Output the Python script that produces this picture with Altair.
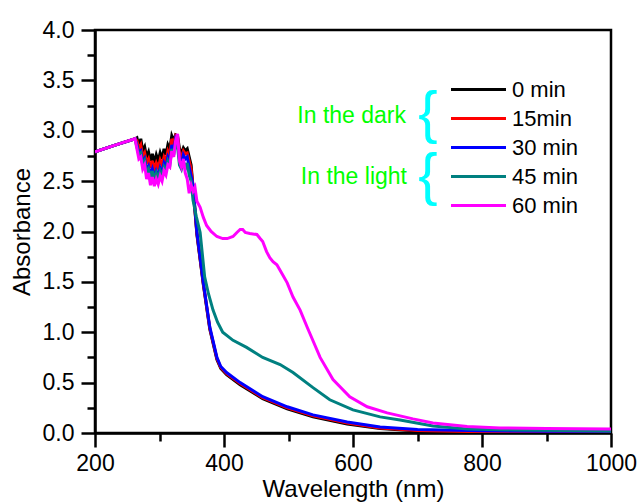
import altair as alt
import pandas as pd

FONT = "Liberation Sans"

# ---------------- data ----------------
start_wl = [200, 230, 262]
start_a = [2.79, 2.855, 2.92]

noise_wl = [262, 265, 268, 271, 274, 277, 280, 283, 286, 289, 292, 295, 298, 301, 304,
            307, 310, 313, 316, 319, 322, 325, 328, 331, 334, 337, 340, 343, 346, 349]

black_noise = [2.92, 2.93, 2.85, 2.92, 2.80, 2.84, 2.74, 2.79, 2.70, 2.77, 2.68, 2.76, 2.70, 2.78, 2.72,
               2.82, 2.76, 2.86, 2.82, 2.95, 2.90, 2.96, 2.95, 2.82, 2.78, 2.83, 2.80, 2.82, 2.74, 2.66]
red_noise = [2.92, 2.90, 2.82, 2.86, 2.74, 2.78, 2.68, 2.72, 2.63, 2.70, 2.62, 2.68, 2.63, 2.71, 2.66,
             2.74, 2.70, 2.80, 2.76, 2.92, 2.86, 2.95, 2.93, 2.78, 2.74, 2.80, 2.77, 2.78, 2.70, 2.62]
blue_noise = [2.92, 2.86, 2.78, 2.80, 2.68, 2.72, 2.61, 2.65, 2.56, 2.62, 2.54, 2.60, 2.55, 2.63, 2.58,
              2.68, 2.64, 2.74, 2.70, 2.86, 2.80, 2.92, 2.88, 2.72, 2.66, 2.76, 2.72, 2.74, 2.64, 2.55]
teal_noise = [2.92, 2.84, 2.76, 2.78, 2.66, 2.70, 2.58, 2.62, 2.53, 2.60, 2.52, 2.58, 2.52, 2.60, 2.55,
              2.64, 2.60, 2.70, 2.66, 2.82, 2.76, 2.88, 2.84, 2.66, 2.62, 2.70, 2.62, 2.68, 2.56, 2.50]
mag_noise = [2.92, 2.82, 2.72, 2.74, 2.62, 2.66, 2.52, 2.58, 2.46, 2.54, 2.45, 2.52, 2.47, 2.55, 2.50,
             2.60, 2.56, 2.66, 2.64, 2.80, 2.74, 2.90, 2.97, 2.70, 2.64, 2.72, 2.58, 2.52, 2.38, 2.46]

dark_wl = [352, 358, 368, 378, 389, 395, 404, 425, 460, 498, 538, 591, 642, 700, 800, 900, 1000]
black_tail = [2.44, 1.97, 1.47, 1.03, 0.73, 0.64, 0.58, 0.48, 0.34, 0.24, 0.16, 0.09, 0.045, 0.02, 0.01, 0.008, 0.008]
red_tail = [2.44, 1.98, 1.48, 1.04, 0.74, 0.65, 0.59, 0.49, 0.35, 0.25, 0.17, 0.10, 0.05, 0.025, 0.012, 0.01, 0.01]
blue_tail = [2.46, 1.99, 1.49, 1.05, 0.75, 0.66, 0.60, 0.50, 0.36, 0.26, 0.18, 0.11, 0.06, 0.035, 0.022, 0.018, 0.018]

teal_wl = [352, 357, 363, 370, 376, 383, 390, 398, 414, 435, 460, 487, 507, 538, 564, 600,
           642, 673, 724, 777, 850, 1000]
teal_tail = [2.31, 2.15, 1.99, 1.55, 1.38, 1.22, 1.10, 1.00, 0.92, 0.85, 0.75, 0.68, 0.60, 0.45, 0.33, 0.23,
             0.16, 0.13, 0.07, 0.04, 0.03, 0.02]

mag_wl = [352, 355, 358, 363, 368, 373, 380, 389, 398, 405, 414, 420, 425, 429, 433, 440, 451, 456,
          460, 466, 471, 476, 482, 490, 498, 507, 518, 529, 533, 549, 569, 595, 622, 653, 693, 724,
          777, 828, 900, 1000]
mag_tail = [2.40, 2.44, 2.30, 2.24, 2.14, 2.06, 2.00, 1.95, 1.93, 1.93, 1.95, 1.99, 2.02, 2.02, 1.99, 1.98,
            1.97, 1.93, 1.90, 1.80, 1.74, 1.70, 1.67, 1.58, 1.49, 1.35, 1.22, 1.05, 0.99, 0.75, 0.53, 0.36,
            0.26, 0.20, 0.14, 0.10, 0.065, 0.05, 0.045, 0.04]

series_names = ["\u00a00 min", "15min", "30 min", "45 min", "60 min"]
series_colors = ["#000000", "#ff0000", "#0000ff", "#008080", "#ff00ff"]

x_major = [200, 400, 600, 800, 1000]
x_minor = [300, 500, 700, 900]
y_major = [0.0, 0.5, 1.0, 1.5, 2.0, 2.5, 3.0, 3.5, 4.0]
y_minor = [0.25, 0.75, 1.25, 1.75, 2.25, 2.75, 3.25, 3.75]

# ---------------- build table ----------------
parts = [
    (series_names[0], start_wl + noise_wl[1:] + dark_wl, start_a + black_noise[1:] + black_tail),
    (series_names[1], start_wl + noise_wl[1:] + dark_wl, start_a + red_noise[1:] + red_tail),
    (series_names[2], start_wl + noise_wl[1:] + dark_wl, start_a + blue_noise[1:] + blue_tail),
    (series_names[3], start_wl + noise_wl[1:] + teal_wl, start_a + teal_noise[1:] + teal_tail),
    (series_names[4], start_wl + noise_wl[1:] + mag_wl, start_a + mag_noise[1:] + mag_tail),
]
rows = []
for k, (name, wl, a) in enumerate(parts):
    for i, (w, v) in enumerate(zip(wl, a)):
        rows.append({"series": name, "wl": w, "A": v, "k": k, "i": i})
df = pd.DataFrame(rows)

xscale = alt.Scale(domain=[200, 1000], nice=False, zero=False)
yscale = alt.Scale(domain=[0, 4], nice=False, zero=False)

axis_common = dict(grid=False, domainColor="black", domainWidth=2.5, tickColor="black",
                   tickWidth=2.5, labelColor="black", labelFont=FONT, titleFont=FONT,
                   titleColor="black", titleFontWeight="normal", labelFontSize=23,
                   titleFontSize=24, labelFlush=False, labelOverlap=False)

x_axis_major = alt.Axis(values=x_major, tickSize=14, labelPadding=5, title="Wavelength (nm)",
                        titlePadding=2, orient="bottom", format="d", **axis_common)
y_axis_major = alt.Axis(values=y_major, tickSize=14, labelPadding=7, title="Absorbance",
                        titlePadding=8, orient="left", format=".1f", **axis_common)

x_axis_minor = alt.Axis(values=x_minor, tickSize=8, labels=False, domain=False, title=None,
                        orient="bottom", grid=False, tickColor="black", tickWidth=2.5)
y_axis_minor = alt.Axis(values=y_minor, tickSize=8, labels=False, domain=False, title=None,
                        orient="left", grid=False, tickColor="black", tickWidth=2.5)

lines = alt.Chart(df).mark_line(strokeWidth=3, clip=True).encode(
    x=alt.X("wl:Q", scale=xscale, axis=x_axis_major),
    y=alt.Y("A:Q", scale=yscale, axis=y_axis_major),
    color=alt.Color("series:N", sort=series_names,
                    scale=alt.Scale(domain=series_names, range=series_colors),
                    legend=alt.Legend(title=None, orient="none", legendX=368, legendY=44,
                                      symbolType="M-2,0H2", symbolSize=756, symbolStrokeWidth=3,
                                      labelFont=FONT, labelFontSize=22, labelColor="black",
                                      labelOffset=18, rowPadding=2, padding=0)),
    order=alt.Order("i:Q"),
    detail="k:N",
)

minor = alt.Chart(df).mark_line(opacity=0).encode(
    x=alt.X("wl:Q", scale=xscale, axis=x_axis_minor),
    y=alt.Y("A:Q", scale=yscale, axis=y_axis_minor),
)

ann_text = ["In the dark", "In the light"]
t_dark = alt.Chart(pd.DataFrame({"t": [ann_text[0]]})).mark_text(
    font=FONT, fontSize=23, color="#00ff00", align="right", baseline="middle"
).encode(text="t:N", x=alt.value(311), y=alt.value(86))
t_light = alt.Chart(pd.DataFrame({"t": [ann_text[1]]})).mark_text(
    font=FONT, fontSize=23, color="#00ff00", align="right", baseline="middle"
).encode(text="t:N", x=alt.value(312), y=alt.value(147))

braces = ["{", "{"]
b1 = alt.Chart(pd.DataFrame({"t": [braces[0]]})).mark_text(
    font=FONT, fontSize=58, color="#00ffff", align="center", baseline="middle"
).encode(text="t:N", x=alt.value(333), y=alt.value(85))
b2 = alt.Chart(pd.DataFrame({"t": [braces[1]]})).mark_text(
    font=FONT, fontSize=58, color="#00ffff", align="center", baseline="middle"
).encode(text="t:N", x=alt.value(333), y=alt.value(147))

chart = alt.layer(lines, minor, t_dark, t_light, b1, b2).resolve_axis(
    x="independent", y="independent"
).properties(
    width=516, height=403,
    autosize=alt.AutoSizeParams(type="none"),
    padding={"left": 95, "top": 30, "right": 28, "bottom": 69},
    background="white",
).configure_view(stroke="black", strokeWidth=2.5)

chart.save("out.html", embed_options={"renderer": "svg", "actions": False})
